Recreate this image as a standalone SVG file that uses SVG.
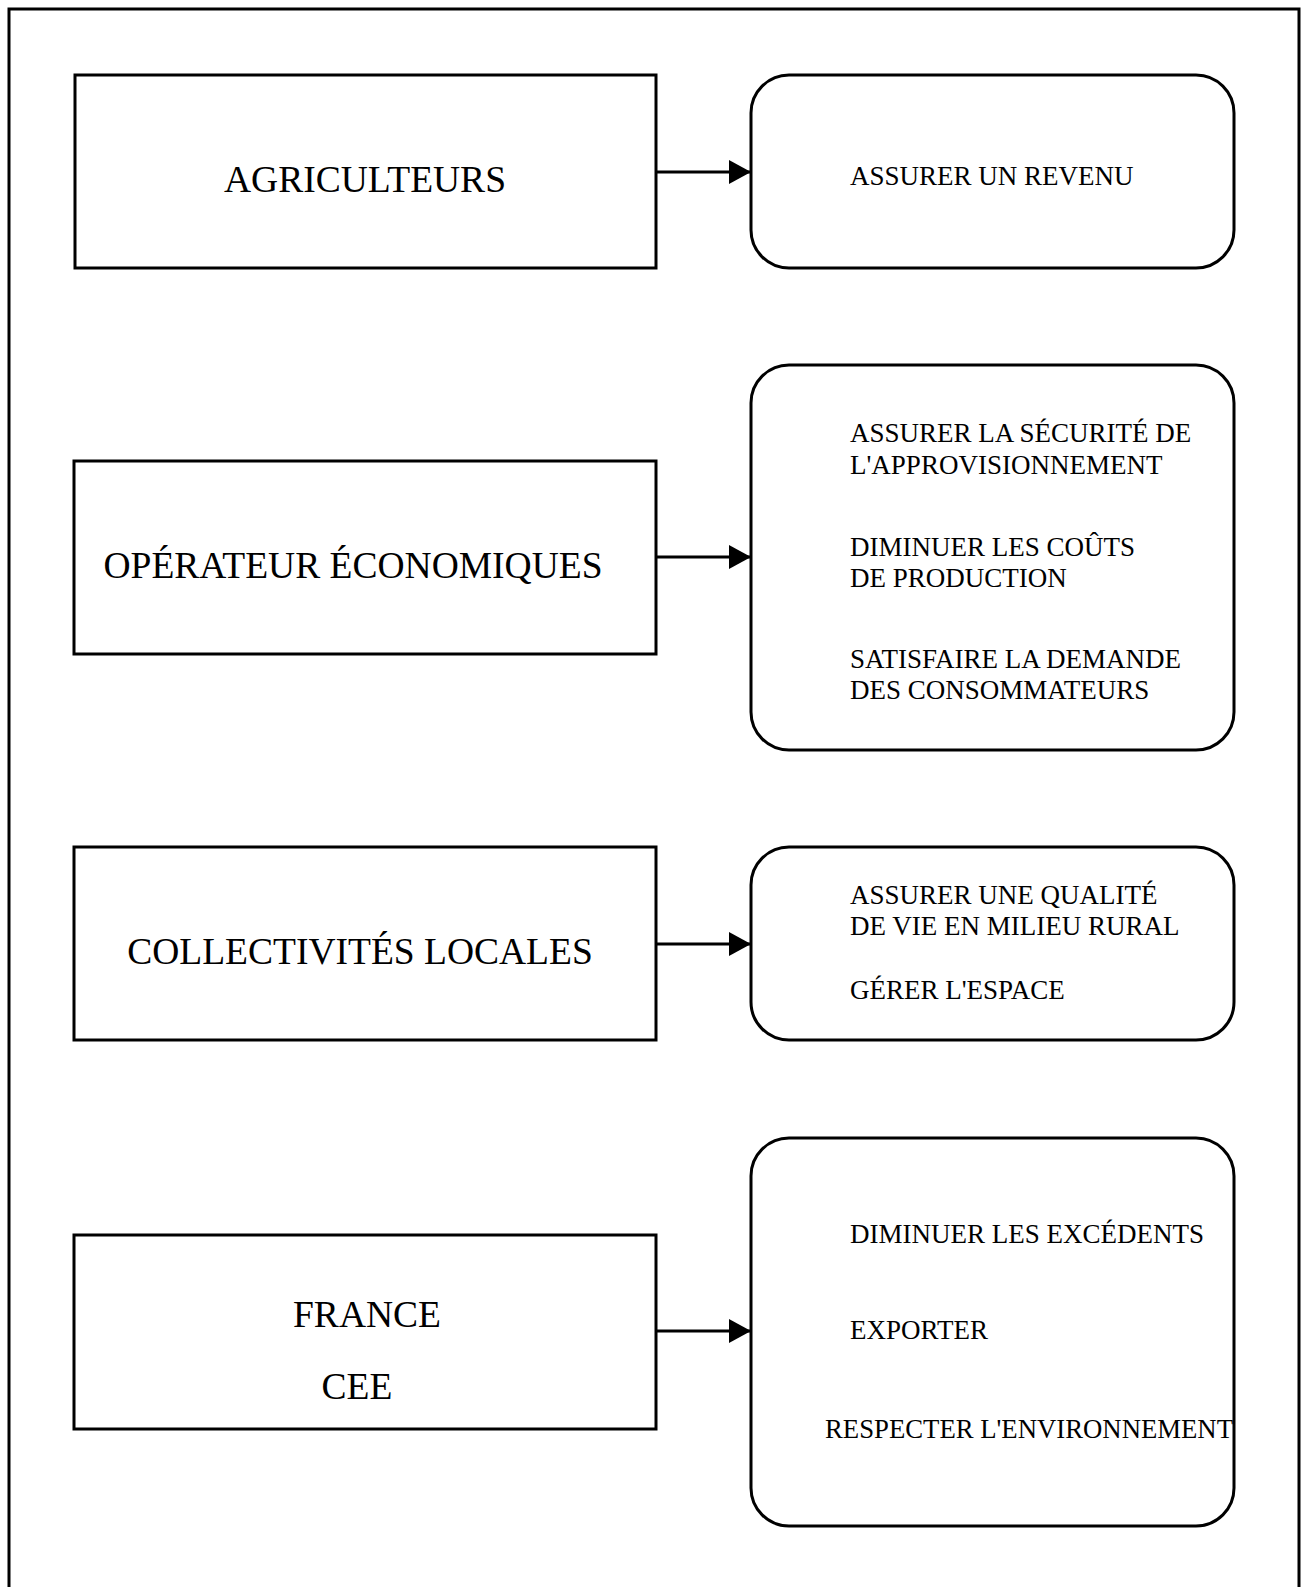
<svg xmlns="http://www.w3.org/2000/svg" width="1303" height="1587" viewBox="0 0 1303 1587">
<style>
.box{fill:none;stroke:#000;stroke-width:3}
.rbox{fill:none;stroke:#000;stroke-width:3}
.lt{font-family:"Liberation Serif","Times New Roman",serif;font-size:37.5px;fill:#000;text-anchor:middle}
.rt{font-family:"Liberation Serif","Times New Roman",serif;font-size:27px;fill:#000}
.conn{stroke:#000;stroke-width:3;fill:none}
</style>
<defs>
<marker id="ah" viewBox="0 0 22 24" refX="22" refY="12" markerWidth="22" markerHeight="24" markerUnits="userSpaceOnUse" orient="auto">
<path d="M0,0 L22,12 L0,24 Z" fill="#000"/>
</marker>
</defs>
<rect width="1303" height="1587" fill="#fff"/>
<path d="M9,1600 L9,9 L1299,9 L1299,1600" fill="none" stroke="#000" stroke-width="3"/>
<g id="agriculteurs"><rect class="box" x="75" y="75" width="581" height="193"/><text class="lt" x="365" y="192">AGRICULTEURS</text></g>
<g id="revenu"><rect class="rbox" x="751" y="75" width="483" height="193" rx="38" ry="38"/><text class="rt" x="850" y="185">ASSURER UN REVENU</text></g>
<g id="operateur"><rect class="box" x="74" y="461" width="582" height="193"/><text class="lt" x="353" y="578">OPÉRATEUR ÉCONOMIQUES</text></g>
<g id="objectifs-operateur"><rect class="rbox" x="751" y="365" width="483" height="385" rx="38" ry="38"/>
<text class="rt" x="850" y="442">ASSURER LA SÉCURITÉ DE</text>
<text class="rt" x="850" y="474">L'APPROVISIONNEMENT</text>
<text class="rt" x="850" y="556">DIMINUER LES COÛTS</text>
<text class="rt" x="850" y="587">DE PRODUCTION</text>
<text class="rt" x="850" y="668">SATISFAIRE LA DEMANDE</text>
<text class="rt" x="850" y="699">DES CONSOMMATEURS</text></g>
<g id="collectivites"><rect class="box" x="74" y="847" width="582" height="193"/><text class="lt" x="360" y="964">COLLECTIVITÉS LOCALES</text></g>
<g id="objectifs-collectivites"><rect class="rbox" x="751" y="847" width="483" height="193" rx="38" ry="38"/>
<text class="rt" x="850" y="904">ASSURER UNE QUALITÉ</text>
<text class="rt" x="850" y="935">DE VIE EN MILIEU RURAL</text>
<text class="rt" x="850" y="999">GÉRER L'ESPACE</text></g>
<g id="france"><rect class="box" x="74" y="1235" width="582" height="194"/><text class="lt" x="367" y="1327">FRANCE</text><text class="lt" x="357" y="1399">CEE</text></g>
<g id="objectifs-france"><rect class="rbox" x="751" y="1138" width="483" height="388" rx="38" ry="38"/>
<text class="rt" x="850" y="1243">DIMINUER LES EXCÉDENTS</text>
<text class="rt" x="850" y="1339">EXPORTER</text>
<text class="rt" x="825" y="1438" textLength="408" lengthAdjust="spacingAndGlyphs">RESPECTER L'ENVIRONNEMENT</text></g>
<g id="connectors">
<line class="conn" x1="656" y1="172" x2="751" y2="172" marker-end="url(#ah)"/>
<line class="conn" x1="656" y1="557" x2="751" y2="557" marker-end="url(#ah)"/>
<line class="conn" x1="656" y1="944" x2="751" y2="944" marker-end="url(#ah)"/>
<line class="conn" x1="656" y1="1331" x2="751" y2="1331" marker-end="url(#ah)"/>
</g>
</svg>
